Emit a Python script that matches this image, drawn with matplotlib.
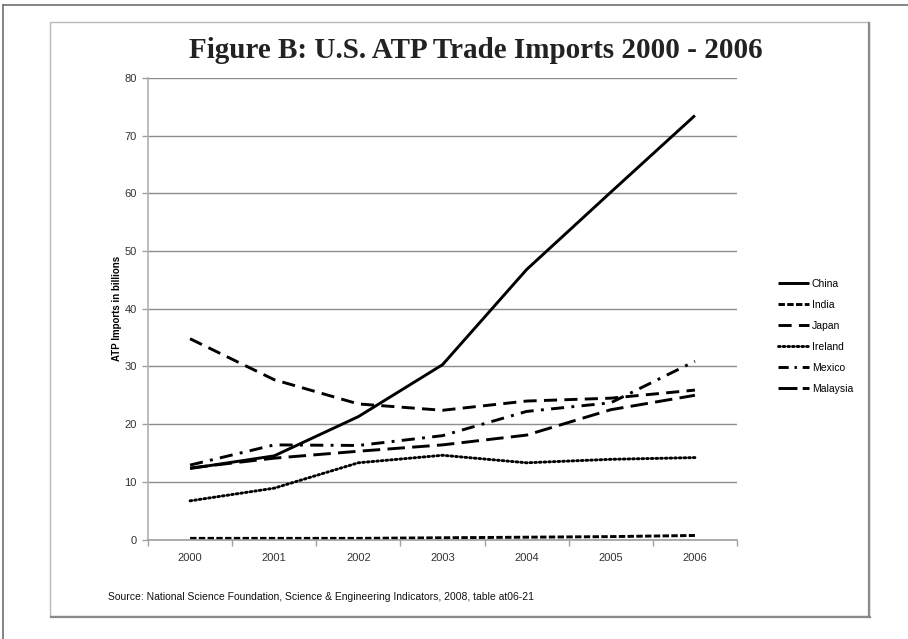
import matplotlib
matplotlib.use('Agg')
import matplotlib.pyplot as plt
from matplotlib.lines import Line2D
from matplotlib.patches import Rectangle

# data (billions)
years = [2000, 2001, 2002, 2003, 2004, 2005, 2006]
china = [12.3, 14.5, 21.3, 30.3, 46.8, 60.2, 73.5]
india = [0.2, 0.2, 0.2, 0.3, 0.4, 0.5, 0.7]
japan = [34.8, 27.7, 23.5, 22.4, 24.0, 24.5, 25.9]
ireland = [6.7, 8.9, 13.3, 14.6, 13.3, 13.9, 14.2]
mexico = [12.9, 16.4, 16.3, 18.0, 22.2, 23.7, 30.9]
malaysia = [12.4, 14.1, 15.3, 16.4, 18.1, 22.5, 25.0]

names = ['China', 'India', 'Japan', 'Ireland', 'Mexico', 'Malaysia']
series = [china, india, japan, ireland, mexico, malaysia]
dashes = [None, (2.2, 0.8), (4.5, 2.5), (0.6, 1.0), (4.5, 2.5, 1.0, 2.5), (6, 2.5)]

sans = 'Liberation Sans'

fig = plt.figure(figsize=(9.08, 6.39), dpi=100)
W, H = 908, 639

def fx(px):
    return px / W

def fy(py):
    return 1 - py / H

# outer frame (only top/left visible)
fig.add_artist(Line2D([fx(3), 1], [fy(5), fy(5)], color='#707070', lw=1.2))
fig.add_artist(Line2D([fx(3), fx(3)], [0, fy(5)], color='#707070', lw=1.2))

# inner chart box with a soft shadow on right/bottom
fig.add_artist(Rectangle((fx(50), fy(616)), fx(869) - fx(50), fy(22) - fy(616),
                         fill=False, ec='#b8b8b8', lw=1.0))
fig.add_artist(Line2D([fx(869), fx(869)], [fy(617), fy(23)], color='#8a8a8a', lw=1.6))
fig.add_artist(Line2D([fx(51), fx(870)], [fy(617), fy(617)], color='#8a8a8a', lw=1.6))

ax = fig.add_axes([fx(148), fy(539.5), fx(737) - fx(148), fy(78) - fy(539.5)])

for name, vals, d in zip(names, series, dashes):
    ln, = ax.plot(years, vals, color='black', lw=2.1, label=name,
                  solid_capstyle='butt', dash_capstyle='butt')
    if d is not None:
        ln.set_dashes(d)
        if name == 'Ireland':
            ln.set_dash_capstyle('round')

ax.set_xlim(1999.5, 2006.5)
ax.set_ylim(0, 80)
ax.set_xticks(years)
ax.set_xticks([y + 0.5 for y in [1999] + years], minor=True)
ax.set_yticks(range(0, 81, 10))
ax.tick_params(axis='x', which='major', length=0, pad=10, labelsize=8, labelcolor='#333333')
ax.tick_params(axis='x', which='minor', length=4, color='#a0a0a0', width=1)
ax.tick_params(axis='y', length=4, color='#a0a0a0', width=1, pad=4, labelsize=8, labelcolor='#333333')
for lab in ax.get_xticklabels() + ax.get_yticklabels():
    lab.set_family(sans)

ax.grid(axis='y', color='#8c8c8c', lw=1)
ax.set_axisbelow(True)
for s in ['top', 'right']:
    ax.spines[s].set_visible(False)
ax.spines['left'].set_color('#b0b0b0')
ax.spines['bottom'].set_color('#a0a0a0')
ax.spines['left'].set_linewidth(1.2)
ax.spines['bottom'].set_linewidth(1.2)

ax.set_ylabel('ATP Imports in billions', fontsize=7, fontweight='bold', family=sans, labelpad=2)

leg = ax.legend(loc='center left', bbox_to_anchor=(1.053, 0.44), frameon=False,
                prop={'family': sans, 'size': 7.5}, handlelength=3.0, handletextpad=0.3,
                labelspacing=1.05)
# shorter pattern for the mexico key so it reads "- . -"
leg.get_lines()[4].set_dashes((3.5, 2, 0.8, 2))
leg.get_lines()[5].set_dashes((6.5, 1.8))

fig.text(fx(476), fy(50), 'Figure B: U.S. ATP Trade Imports 2000 - 2006', ha='center', va='center',
         fontsize=21, fontweight='bold', family='Liberation Serif', color='#222222')

fig.text(fx(108), fy(597), 'Source: National Science Foundation, Science & Engineering Indicators, 2008, table at06-21',
         ha='left', va='center', fontsize=7.5, family=sans, color='#111111')

fig.savefig('out.png', dpi=100)
